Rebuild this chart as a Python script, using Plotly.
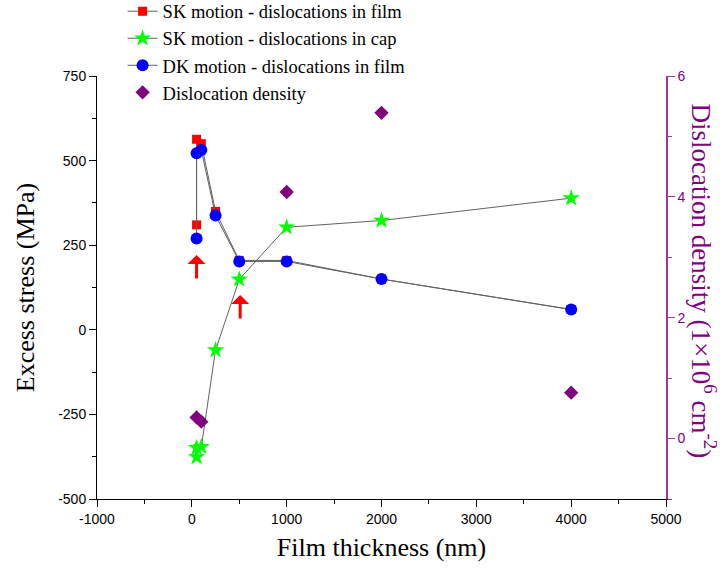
import plotly.graph_objects as go

# Data
sk_film_x = [50, 50, 100, 250, 500, 1000, 2000, 4000]
sk_film_y = [310, 563, 550, 350, 205, 205, 150, 60]

sk_cap_x = [50, 50, 100, 250, 500, 1000, 2000, 4000]
sk_cap_y = [-376, -349, -346, -60, 149, 303, 323, 389]

dk_film_x = [50, 50, 100, 250, 500, 1000, 2000, 4000]
dk_film_y = [270, 522, 531, 338, 202, 202, 150, 60]

dens_x = [50, 100, 1000, 2000, 4000]
dens_y = [0.35, 0.28, 4.08, 5.39, 0.76]

arrow_x = [50, 510]
arrow_tip = [221, 103]
arrow_tail = [147, 29]

x_ticks = [-1000, 0, 1000, 2000, 3000, 4000, 5000]
x_labels = ["-1000", "0", "1000", "2000", "3000", "4000", "5000"]
y_ticks = [-500, -250, 0, 250, 500, 750]
y_labels = ["-500", "-250", "0", "250", "500", "750"]
y2_ticks = [0, 2, 4, 6]
y2_labels = ["0", "2", "4", "6"]

PURPLE = "#800080"
AXPURPLE = "#9b3a9b"
LINE = "#606060"
SERIF = "Liberation Serif, Times New Roman, serif"
SANS = "Liberation Sans, Arial, sans-serif"

fig = go.Figure()
fig.add_trace(go.Scatter(x=sk_film_x, y=sk_film_y, mode="lines+markers",
                         name="SK motion - dislocations in film",
                         line=dict(color=LINE, width=1),
                         marker=dict(symbol="square", size=9, color="#ff0000")))
fig.add_trace(go.Scatter(x=sk_cap_x, y=sk_cap_y, mode="lines+markers",
                         name="SK motion - dislocations in cap",
                         line=dict(color=LINE, width=1),
                         marker=dict(symbol="star", size=13, color="#00ff00")))
fig.add_trace(go.Scatter(x=dk_film_x, y=dk_film_y, mode="lines+markers",
                         name="DK motion - dislocations in film",
                         line=dict(color=LINE, width=1),
                         marker=dict(symbol="circle", size=12, color="#0000ff")))
fig.add_trace(go.Scatter(x=dens_x, y=dens_y, mode="markers", yaxis="y2",
                         name="Dislocation density",
                         marker=dict(symbol="diamond", size=11, color=PURPLE)))

annotations = []
for ax_, tip, tail in zip(arrow_x, arrow_tip, arrow_tail):
    annotations.append(dict(x=ax_, y=tip, ax=ax_, ay=tail, xref="x", yref="y",
                            axref="x", ayref="y", text="", showarrow=True,
                            arrowhead=1, arrowsize=1, arrowwidth=3,
                            arrowcolor="#ff0000"))
annotations.append(dict(x=1.066, y=0.515, xref="paper", yref="paper",
                        xanchor="center", yanchor="middle",
                        text="Dislocation density (1×10<sup>6</sup> cm<sup>-2</sup>)",
                        textangle=90, showarrow=False,
                        font=dict(family=SERIF, size=27, color=PURPLE)))

fig.update_layout(
    width=720, height=573,
    margin=dict(l=97, r=54, t=76, b=74, autoexpand=False),
    paper_bgcolor="white", plot_bgcolor="white",
    showlegend=True,
    legend=dict(x=0.045, y=1.197, xanchor="left", yanchor="top",
                font=dict(family=SERIF, size=18.5, color="black"),
                bgcolor="rgba(0,0,0,0)", tracegroupgap=0),
    xaxis=dict(range=[-1000, 5000], tickvals=x_ticks, ticktext=x_labels,
               showgrid=False, zeroline=False, showline=True, linecolor="black",
               linewidth=1, ticks="outside", ticklen=7, tickcolor="black",
               minor=dict(dtick=500, ticks="outside", ticklen=4, tickcolor="black"),
               tickfont=dict(family=SANS, size=14, color="black"),
               title=dict(text="Film thickness (nm)", font=dict(family=SERIF, size=26, color="black"),
                          standoff=12)),
    yaxis=dict(range=[-500, 750], tickvals=y_ticks, ticktext=y_labels,
               showgrid=False, zeroline=False, showline=True, linecolor="black",
               linewidth=1, ticks="outside", ticklen=7, tickcolor="black",
               minor=dict(dtick=125, ticks="outside", ticklen=4, tickcolor="black"),
               tickfont=dict(family=SANS, size=14, color="black"),
               title=dict(text="Excess stress (MPa)", font=dict(family=SERIF, size=26, color="black"),
                          standoff=16)),
    yaxis2=dict(range=[-1, 6], tickvals=y2_ticks, ticktext=y2_labels, overlaying="y", side="right",
                showgrid=False, zeroline=False, showline=True, linecolor=AXPURPLE,
                linewidth=1.5, ticks="outside", ticklen=7, tickcolor=AXPURPLE,
                minor=dict(dtick=1, ticks="outside", ticklen=4, tickcolor=AXPURPLE),
                tickfont=dict(family=SANS, size=14, color=PURPLE)),
    annotations=annotations,
)

fig.write_html("out.html", config={"displayModeBar": False},
               post_script="document.body.style.margin='0px';")
